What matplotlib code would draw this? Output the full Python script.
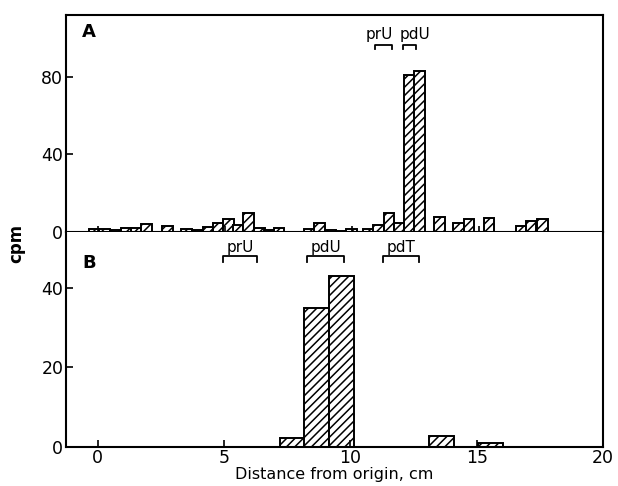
import numpy as np
import matplotlib.pyplot as plt

plt.rcParams['font.family'] = ['DejaVu Sans']
plt.rcParams['hatch.linewidth'] = 1.1

# panel A: strip sections (centre in cm, cpm)
a_pos = [-0.15, 0.25, 0.7, 1.12, 1.5, 1.92, 2.75, 3.5, 3.92, 4.34, 4.76, 5.14,
         5.52, 5.94, 6.36, 6.75, 7.13, 8.32, 8.74, 9.16, 9.58, 10.0, 10.67,
         11.05, 11.47, 11.89, 12.27, 12.66, 13.45, 14.2, 14.62, 15.4, 16.68,
         17.06, 17.5]
a_cpm = [1.5, 1.5, 0.8, 1.8, 2.2, 4.0, 3.2, 1.3, 0.8, 2.6, 4.5, 6.5,
         3.4, 9.5, 2.0, 1.0, 2.0, 1.4, 4.8, 1.0, 0.5, 1.5, 1.5,
         3.5, 9.5, 4.8, 81, 83, 7.8, 4.8, 6.5, 7.2, 3.0,
         5.7, 6.5]
a_width = 0.42

# panel B
b_pos = [7.7, 8.65, 9.65, 13.6, 15.55]
b_cpm = [2.2, 35, 43, 2.9, 1.0]
b_width = 0.97

# marker positions (start, end) in cm
a_marks = {'prU': (10.9, 11.58), 'pdU': (12.03, 12.52)}
b_marks = {'prU': (4.95, 6.32), 'pdU': (8.3, 9.73), 'pdT': (11.3, 12.73)}

fig = plt.figure(figsize=(6.18, 4.86), dpi=100)
axA = fig.add_axes([0.107, 0.523, 0.869, 0.446])
axB = fig.add_axes([0.107, 0.08, 0.869, 0.443])

axA.bar(a_pos, a_cpm, width=a_width, color='white', edgecolor='black',
        hatch='////', linewidth=1.4)
axB.bar(b_pos, b_cpm, width=b_width, color='white', edgecolor='black',
        hatch='////', linewidth=1.4)

for ax in (axA, axB):
    ax.set_xlim(-1.25, 19.9)
    for s in ax.spines.values():
        s.set_linewidth(1.5)
    ax.tick_params(labelsize=12.5, width=1.2, length=5, pad=2)

axA.set_ylim(0, 112)
axA.set_yticks([0, 40, 80])
axA.set_xticks([0, 5, 10, 15])
axA.tick_params(axis='x', direction='inout', length=8, labelbottom=False)
axA.tick_params(axis='y', direction='in')

axB.set_ylim(0, 54)
axB.set_yticks([0, 20, 40])
axB.set_xticks([0, 5, 10, 15, 20])
axB.tick_params(direction='in')
axB.tick_params(axis='x', pad=1)
axB.spines['top'].set_visible(False)
axB.set_xlabel('Distance from origin, cm', fontsize=11.5, labelpad=0)

axA.text(0.03, 0.9, 'A', transform=axA.transAxes, fontsize=13, fontweight='bold')
axB.text(0.03, 0.83, 'B', transform=axB.transAxes, fontsize=13, fontweight='bold')
fig.text(0.027, 0.5, 'cpm', rotation=90, fontsize=12, fontweight='bold',
         va='center', ha='center')

for name, (x0, x1) in a_marks.items():
    axA.plot([x0, x0, x1, x1], [94.5, 96.5, 96.5, 94.5], color='black', lw=1.3)
for name, (x0, x1) in zip(a_marks, [(10.6, 11.6), (12.05, 12.95)]):
    axA.text((x0 + x1) / 2, 98, name, ha='center', va='bottom', fontsize=11)

for name, (x0, x1) in b_marks.items():
    axB.plot([x0, x0, x1, x1], [46.5, 48, 48, 46.5], color='black', lw=1.3)
    axB.text((x0 + x1) / 2, 48.3, name, ha='center', va='bottom', fontsize=11)

fig.savefig('out.png', dpi=100)
